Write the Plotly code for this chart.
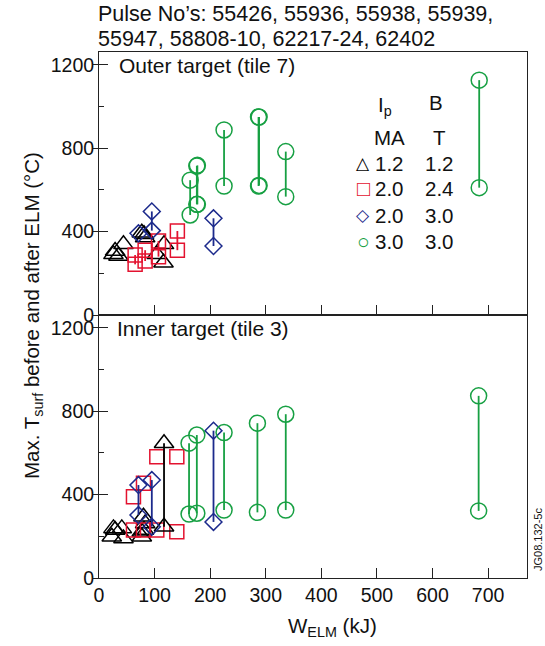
import plotly.graph_objects as go

# ---------------- data ----------------
# Outer target (tile 7)  -- x: W_ELM (kJ), y: max T_surf (deg C)
OUT_CIRC_X = [164, 176, 177, 225, 287, 288, 336, 684]
OUT_CIRC_HI = [647, 715, 718, 888, 950, 950, 784, 1127]
OUT_CIRC_LO = [480, 531, 531, 619, 619, 622, 568, 611]

OUT_DIAM_X = [95, 206]
OUT_DIAM_HI = [497, 464]
OUT_DIAM_LO = [405, 331]
OUT_DIAM_SX = [71]
OUT_DIAM_SY = [392]

OUT_SQ_X = [65, 83, 107, 141]
OUT_SQ_HI = [288, 311, 355, 403]
OUT_SQ_LO = [243, 259, 280, 311]

OUT_TRI_X = [26, 35, 29, 44, 77, 81, 83, 117, 116, 104]
OUT_TRI_Y = [291, 283, 307, 339, 395, 387, 372, 339, 251, 291]

# Inner target (tile 3)
IN_CIRC_X = [162, 176, 225, 285, 336, 683]
IN_CIRC_HI = [647, 686, 698, 743, 786, 874]
IN_CIRC_LO = [307, 311, 326, 315, 326, 322]

IN_DIAM_X = [71, 95, 206]
IN_DIAM_HI = [446, 470, 707]
IN_DIAM_LO = [302, 246, 269]

IN_SQ_X = [62, 80, 104, 140, 62, 80, 104, 140]
IN_SQ_Y = [390, 455, 582, 582, 230, 230, 230, 222]

IN_TRI_PX = [117]
IN_TRI_HI = [647]
IN_TRI_LO = [246]
IN_TRI_X = [26, 29, 41, 44, 23, 80, 83, 77, 81, 77]
IN_TRI_Y = [238, 230, 238, 190, 198, 294, 262, 198, 230, 222]

X_TICKS = [0, 100, 200, 300, 400, 500, 600, 700]
Y_TICKS = [0, 400, 800, 1200]
Y_MINOR = [200, 600, 1000]

LEGEND_ROWS = [("△", "1.2", "1.2"), ("□", "2.0", "2.4"), ("◇", "2.0", "3.0"), ("○", "3.0", "3.0")]

# ---------------- styles ----------------
GREEN = "#17a043"
RED = "#e3122f"
BLUE = "#1c2a8c"
BLACK = "#000000"
FONT = "Liberation Sans, Arial, Helvetica, sans-serif"

fig = go.Figure()


def links(xs, his, los):
    lx, ly = [], []
    for x, h, l in zip(xs, his, los):
        lx += [x, x, None]
        ly += [h, l, None]
    return lx, ly


def marker(color, symbol, size):
    return dict(symbol=symbol, size=size, color=color, line=dict(color=color, width=1.5))


def add_pairs(xs, his, los, color, symbol, size, xa, ya, lw=1.8):
    lx, ly = links(xs, his, los)
    fig.add_trace(go.Scatter(x=lx, y=ly, mode="lines", line=dict(color=color, width=lw),
                             xaxis=xa, yaxis=ya, showlegend=False, hoverinfo="skip"))
    fig.add_trace(go.Scatter(x=list(xs) + list(xs), y=list(his) + list(los), mode="markers",
                             marker=marker(color, symbol, size),
                             xaxis=xa, yaxis=ya, showlegend=False))


def add_points(xs, ys, color, symbol, size, xa, ya):
    fig.add_trace(go.Scatter(x=xs, y=ys, mode="markers",
                             marker=marker(color, symbol, size),
                             xaxis=xa, yaxis=ya, showlegend=False))


TRI, SQ, DIA, CIR = 17, 14, 13, 16

# top panel (outer) on x2/y2
add_points(OUT_TRI_X, OUT_TRI_Y, BLACK, "triangle-up-open", TRI, "x2", "y2")
add_pairs(OUT_SQ_X, OUT_SQ_HI, OUT_SQ_LO, RED, "square-open", SQ, "x2", "y2")
add_pairs(OUT_DIAM_X, OUT_DIAM_HI, OUT_DIAM_LO, BLUE, "diamond-open", DIA, "x2", "y2")
add_points(OUT_DIAM_SX, OUT_DIAM_SY, BLUE, "diamond-open", DIA, "x2", "y2")
add_pairs(OUT_CIRC_X, OUT_CIRC_HI, OUT_CIRC_LO, GREEN, "circle-open", CIR, "x2", "y2")

# bottom panel (inner) on x/y
add_points(IN_TRI_X, IN_TRI_Y, BLACK, "triangle-up-open", TRI, "x", "y")
add_points(IN_SQ_X, IN_SQ_Y, RED, "square-open", SQ, "x", "y")
add_pairs(IN_TRI_PX, IN_TRI_HI, IN_TRI_LO, BLACK, "triangle-up-open", TRI, "x", "y")
add_pairs(IN_DIAM_X, IN_DIAM_HI, IN_DIAM_LO, BLUE, "diamond-open", DIA, "x", "y")
add_pairs(IN_CIRC_X, IN_CIRC_HI, IN_CIRC_LO, GREEN, "circle-open", CIR, "x", "y")

# empty traces so the overlay tick axes exist
fig.add_trace(go.Scatter(x=[None], y=[None], xaxis="x", yaxis="y3", showlegend=False))
fig.add_trace(go.Scatter(x=[None], y=[None], xaxis="x2", yaxis="y4", showlegend=False))

XR = [0, 770]
YR = [0, 1262]
LINEC = "#222222"

xcommon = dict(range=XR, tickvals=X_TICKS, ticks="inside", ticklen=10, tickcolor=LINEC,
               showline=True, linecolor=LINEC, linewidth=1, mirror=True,
               showgrid=False, zeroline=False)
ycommon = dict(range=YR, tickvals=Y_TICKS, ticks="inside", ticklen=9, tickcolor=LINEC,
               showline=True, linecolor=LINEC, linewidth=1, mirror=True,
               showgrid=False, zeroline=False,
               minor=dict(tickvals=Y_MINOR, ticks="inside", ticklen=5, tickcolor=LINEC),
               tickfont=dict(size=19.5, color="#111"))
yover = dict(range=YR, tickvals=Y_TICKS, ticks="outside", ticklen=5, tickcolor=LINEC,
             showticklabels=False, showline=False, showgrid=False, zeroline=False)

fig.update_layout(
    width=545, height=646,
    margin=dict(l=99, r=18, t=52, b=68),
    paper_bgcolor="white", plot_bgcolor="white",
    font=dict(family=FONT, size=20, color="#111"),
    xaxis=dict(domain=[0, 1], anchor="y", tickfont=dict(size=19.5, color="#111"), **xcommon),
    xaxis2=dict(domain=[0, 1], anchor="y2", showticklabels=False, **xcommon),
    yaxis=dict(domain=[0, 0.5], anchor="x", **ycommon),
    yaxis2=dict(domain=[0.5, 1], anchor="x2", **ycommon),
    yaxis3=dict(overlaying="y", anchor="x", **yover),
    yaxis4=dict(overlaying="y2", anchor="x2", **yover),
    showlegend=False,
)

W, H = 545, 646
L, R, T, B = 99, 18, 52, 68
PW, PH = W - L - R, H - T - B


def px(x):
    return (x - L) / PW


def py(y):
    return (H - B - y) / PH


anns = []


def txt(text, x, y, xanchor="center", size=20, color="#111", angle=0):
    anns.append(dict(text=text, x=px(x), y=py(y), xref="paper", yref="paper",
                     xanchor=xanchor, yanchor="middle", showarrow=False,
                     font=dict(size=size, color=color, family=FONT), textangle=angle))


txt("Pulse No’s: 55426, 55936, 55938, 55939,", 96, 14, "left", 21.5)
txt("55947, 58808-10, 62217-24, 62402", 96, 39, "left", 21.5)
txt("Outer target (tile 7)", 117, 65, "left", 21)
txt("Inner target (tile 3)", 115, 328, "left", 21)
txt("Max. T<sub>surf</sub> before and after ELM (°C)", 33, 316, "center", 20.5, angle=-90)
txt("W<sub>ELM</sub> (kJ)", 332, 627, "center", 20.5)
txt("JG08.132-5c", 538, 540, "center", 11, angle=-90)

# legend block
txt("I<sub>p</sub>", 385, 106, "center", 20.5)
txt("B", 436, 102, "center", 20.5)
txt("MA", 389, 138, "center", 20.5)
txt("T", 439, 138, "center", 20.5)
SYM_COL = [BLACK, RED, BLUE, GREEN]
SYM_SIZE = [17, 22, 17, 21]
for i, (sym, ip, bt) in enumerate(LEGEND_ROWS):
    yy = 163 + i * 26
    txt(sym, 363, yy, "center", SYM_SIZE[i], SYM_COL[i])
    txt(ip, 389, yy, "center", 20.5)
    txt(bt, 439, yy, "center", 20.5)

fig.update_layout(annotations=anns)

fig.write_html("out.html")
